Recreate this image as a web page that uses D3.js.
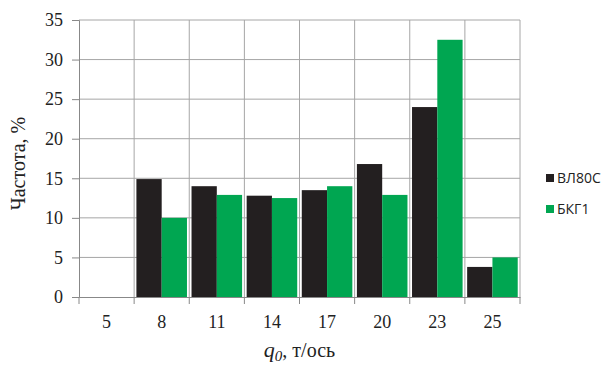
<!DOCTYPE html>
<html>
<head>
<meta charset="utf-8">
<script src="https://cdn.jsdelivr.net/npm/d3@7"></script>
<style>
  body { margin: 0; background: #fff; }
  svg { display: block; }
</style>
</head>
<body>
<script>
// data
const categories = ["5", "8", "11", "14", "17", "20", "23", "25"];
const seriesNames = ["ВЛ80С", "БКГ1"];
const vl80s = [0, 14.9, 14.0, 12.8, 13.5, 16.8, 24.0, 3.8];
const bkg1 = [0, 10.0, 12.9, 12.5, 14.0, 12.9, 32.5, 5.0];
const yTicks = [0, 5, 10, 15, 20, 25, 30, 35];
const colors = ["#231f20", "#00a651"];

const W = 612, H = 365;
const m = { left: 79, right: 92, top: 20, bottom: 68 };
const iw = W - m.left - m.right, ih = H - m.top - m.bottom;

const svg = d3.select("body").append("svg")
    .attr("width", W).attr("height", H);

const g = svg.append("g").attr("transform", `translate(${m.left},${m.top})`);

const x = d3.scaleBand().domain(categories).range([0, iw]);
const xs = d3.scaleBand().domain(seriesNames).range([0, x.bandwidth()]).paddingOuter(0.09);
const y = d3.scaleLinear().domain([0, 35]).range([ih, 0]);

// grid
g.append("g").selectAll("line.h")
    .data(yTicks.filter(d => d > 0))
    .enter().append("line")
    .attr("x1", 0).attr("x2", iw)
    .attr("y1", d => y(d)).attr("y2", d => y(d))
    .attr("stroke", "#a6a6a6").attr("stroke-width", 1);

g.append("g").selectAll("line.v")
    .data(categories.slice(1).concat(["end"]))
    .enter().append("line")
    .attr("x1", (d, i) => x.bandwidth() * (i + 1))
    .attr("x2", (d, i) => x.bandwidth() * (i + 1))
    .attr("y1", 0).attr("y2", ih)
    .attr("stroke", "#a6a6a6").attr("stroke-width", 1);

// bars
const rows = categories.map((c, i) => ({ c, vals: [vl80s[i], bkg1[i]] }));
g.append("g").selectAll("g")
    .data(rows)
    .enter().append("g")
    .attr("transform", d => `translate(${x(d.c)},0)`)
    .selectAll("rect")
    .data(d => d.vals.map((v, j) => ({ name: seriesNames[j], v, j })))
    .enter().append("rect")
    .attr("x", d => xs(d.name))
    .attr("width", xs.bandwidth())
    .attr("y", d => y(d.v))
    .attr("height", d => ih - y(d.v))
    .attr("fill", d => colors[d.j]);

// y axis
const yAxis = g.append("g")
    .call(d3.axisLeft(y).tickValues(yTicks).tickSize(7).tickPadding(9));
yAxis.select(".domain").attr("stroke", "#888");
yAxis.selectAll(".tick line").attr("stroke", "#888");
yAxis.selectAll("text")
    .attr("font-family", "Liberation Serif, serif")
    .attr("font-size", 18).attr("fill", "#222");

// x axis
const xAxis = g.append("g").attr("transform", `translate(0,${ih})`)
    .call(d3.axisBottom(x).tickSize(0).tickPadding(18));
xAxis.select(".domain").attr("stroke", "#888");
xAxis.selectAll("text")
    .attr("font-family", "Liberation Serif, serif")
    .attr("font-size", 18).attr("fill", "#222");
xAxis.append("g").selectAll("line")
    .data(d3.range(categories.length + 1))
    .enter().append("line")
    .attr("x1", i => i * x.bandwidth()).attr("x2", i => i * x.bandwidth())
    .attr("y1", 0).attr("y2", 7)
    .attr("stroke", "#888");

// axis titles
svg.append("text")
    .attr("transform", `translate(25,${m.top + ih / 2 + 5}) rotate(-90)`)
    .attr("text-anchor", "middle")
    .attr("font-family", "Liberation Serif, serif")
    .attr("font-size", 20).attr("fill", "#222")
    .text("Частота, %");

const xt = svg.append("text")
    .attr("x", m.left + iw / 2).attr("y", 357)
    .attr("text-anchor", "middle")
    .attr("font-family", "Liberation Serif, serif")
    .attr("font-size", 20).attr("fill", "#222");
xt.append("tspan").attr("font-style", "italic").attr("font-size", 22).text("q");
xt.append("tspan").attr("font-style", "italic").attr("font-size", 15).attr("dy", 4).text("0");
xt.append("tspan").attr("dy", -4).text(", т/ось");

// legend
const lg = svg.append("g").attr("transform", "translate(546,170)");
const li = lg.selectAll("g").data(seriesNames).enter().append("g")
    .attr("transform", (d, i) => `translate(0,${i * 31})`);
li.append("rect").attr("width", 8).attr("height", 8).attr("y", 4)
    .attr("fill", (d, i) => colors[i]);
li.append("text").attr("x", 11).attr("y", 13)
    .attr("font-family", "Open Sans, sans-serif")
    .attr("font-size", 14).attr("fill", "#222")
    .text(d => d);
</script>
</body>
</html>
